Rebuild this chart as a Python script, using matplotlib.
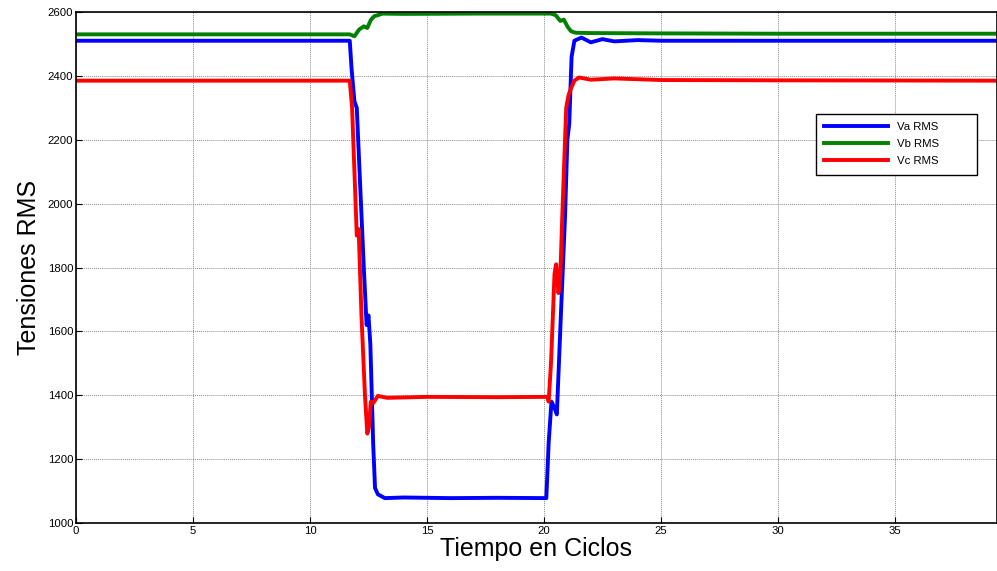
import matplotlib.pyplot as plt
import numpy as np

plt.rcParams['font.family'] = ['Liberation Sans', 'DejaVu Sans']

# Va RMS
t_a = [0, 11.7, 11.78, 11.9, 12.0, 12.15, 12.3, 12.42, 12.5, 12.58, 12.7, 12.78, 12.9, 13.2,
       14, 16, 18, 20.1, 20.2, 20.32, 20.45, 20.55, 20.65, 20.75, 20.9, 21.0, 21.08,
       21.18, 21.3, 21.6, 22, 22.5, 23, 24, 25, 30, 39.4]
v_a = [2510, 2510, 2420, 2320, 2300, 2050, 1800, 1620, 1650, 1560, 1250, 1110, 1090, 1078,
       1080, 1078, 1079, 1078, 1250, 1380, 1360, 1340, 1520, 1700, 1960, 2200, 2250,
       2460, 2510, 2520, 2505, 2515, 2508, 2512, 2510, 2510, 2510]

# Vb RMS
t_b = [0, 11.7, 11.9, 12.1, 12.3, 12.45, 12.6, 12.75, 12.9, 13.1, 14, 17, 20.3, 20.5,
       20.7, 20.85, 21.0, 21.15, 21.35, 22, 25, 30, 39.4]
v_b = [2530, 2530, 2524, 2545, 2555, 2550, 2575, 2587, 2590, 2595, 2594, 2595, 2595, 2590,
       2572, 2576, 2555, 2540, 2535, 2534, 2533, 2532, 2532]

# Vc RMS
t_c = [0, 11.7, 11.8, 11.9, 12.0, 12.08, 12.2, 12.35, 12.45, 12.52, 12.6, 12.7, 12.9, 13.3,
       15, 18, 20.15, 20.2, 20.3, 20.45, 20.52, 20.62, 20.7, 20.8, 20.95, 21.05, 21.15,
       21.3, 21.5, 22, 23, 25, 30, 39.4]
v_c = [2385, 2385, 2300, 2100, 1900, 1920, 1650, 1400, 1280, 1300, 1380, 1375, 1398, 1392,
       1395, 1394, 1395, 1380, 1500, 1780, 1810, 1720, 1780, 2000, 2300, 2340, 2360,
       2385, 2395, 2388, 2392, 2387, 2386, 2385]

xticks = [0, 5, 10, 15, 20, 25, 30, 35]
yticks = [1000, 1200, 1400, 1600, 1800, 2000, 2200, 2400, 2600]

fig = plt.figure(figsize=(9.97, 5.71), dpi=100)
ax = fig.add_axes([0.0762, 0.084, 0.9238, 0.895])

ax.plot(t_a, v_a, color='#0000ff', lw=2.8, label='Va RMS')
ax.plot(t_b, v_b, color='#008000', lw=2.8, label='Vb RMS')
ax.plot(t_c, v_c, color='#ff0000', lw=2.8, label='Vc RMS')

ax.set_xlim(0, 39.36)
ax.set_ylim(1000, 2600)
ax.set_xticks(xticks)
ax.set_yticks(yticks)
ax.tick_params(direction='in', labelsize=8.2, length=4, width=0.8, pad=2)
ax.grid(True, color='#8c8c8c', linestyle=(0, (1, 1)), linewidth=0.7)
for s in ax.spines.values():
    s.set_linewidth(1.2)

ax.set_xlabel('Tiempo en Ciclos', fontsize=18, labelpad=1)
ax.set_ylabel('Tensiones RMS', fontsize=18, labelpad=5)

leg = ax.legend(loc='upper left', bbox_to_anchor=(0.797, 0.699, 0.187, 0.113),
                mode='expand', fontsize=8.2, fancybox=False, edgecolor='black',
                framealpha=1, handlelength=5.6, borderpad=0.75, labelspacing=0.62)
leg.get_frame().set_linewidth(1.0)

fig.savefig('out.png', dpi=100)
